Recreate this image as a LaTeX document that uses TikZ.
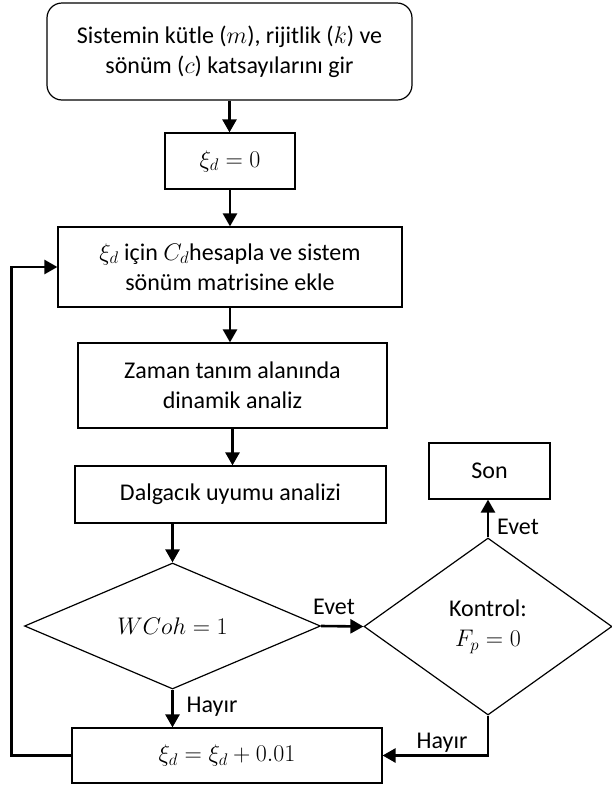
\RequirePackage{fix-cm}
\documentclass[tikz,border=0pt]{standalone}
\usepackage{fontspec}
\setmainfont{Carlito}
\usetikzlibrary{shapes.geometric,arrows.meta}
\begin{document}
\begin{tikzpicture}[x=1pt,y=-1pt,
  every node/.style={font=\fontsize{24}{30}\selectfont},
  box/.style={draw,line width=1.2pt,inner sep=0pt,align=center},
  dia/.style={draw,shape=diamond,line width=1.2pt,inner sep=0pt,align=center},
  flow/.style={line width=2.6pt,-{Triangle[length=13pt,width=14pt]}},
  lbl/.style={inner sep=0pt}]
\useasboundingbox (0,0) rectangle (611,785);
\node[box,rounded corners=15pt,minimum width=365pt,minimum height=97pt] (start) at (229.5,51.5)
  {Sistemin kütle ($m$), rijitlik ($k$) ve\\ sönüm ($c$) katsayılarını gir};
\node[box,minimum width=130pt,minimum height=56pt] (b2) at (230,161) {$\xi_d = 0$};
\node[box,minimum width=344pt,minimum height=80pt] (b3) at (230,267)
  {$\xi_d$ için $C_d$hesapla ve sistem\\ sönüm matrisine ekle};
\node[box,minimum width=309pt,minimum height=85pt] (b4) at (232.5,385.5)
  {Zaman tanım alanında\\ dinamik analiz};
\node[box,minimum width=311pt,minimum height=57pt] (b5) at (230.5,494.5) {Dalgacık uyumu analizi};
\node[dia,aspect=2.35,minimum width=296pt,minimum height=126pt] (d1) at (172.5,626) {$WCoh = 1$};
\node[dia,aspect=1.4,minimum width=248pt,minimum height=177pt] (d2) at (488,626.5) {Kontrol:\\ $F_p = 0$};
\node[box,minimum width=121pt,minimum height=56pt] (son) at (489.5,471) {Son};
\node[box,minimum width=310pt,minimum height=55pt] (b6) at (227,755.5) {$\xi_d = \xi_d + 0.01$};

\draw[flow] (start.south) -- (start.south |- b2.north);
\draw[flow] (b2.south) -- (b2.south |- b3.north);
\draw[flow] (b3.south) -- (b3.south |- b4.north);
\draw[flow] (b4.south) -- (b4.south |- b5.north);
\draw[flow] (d1.north |- b5.south) -- (d1.north);
\draw[flow] (d1.east) -- (d2.west);
\draw[flow] (d2.north) -- (d2.north |- son.south);
\draw[flow] (d1.south) -- (d1.south |- b6.north);
\draw[flow] (d2.south) |- (b6.east);
\draw[flow] (b6.west) -- ([xshift=-60pt]b6.west) |- (b3.west);

\node[lbl] (l1) at (334,607) {Evet};
\node[lbl] (l2) at (518,527) {Evet};
\node[lbl] (l3) at (212,707) {Hayır};
\node[lbl] (l4) at (442,743) {Hayır};
\end{tikzpicture}
\end{document}
